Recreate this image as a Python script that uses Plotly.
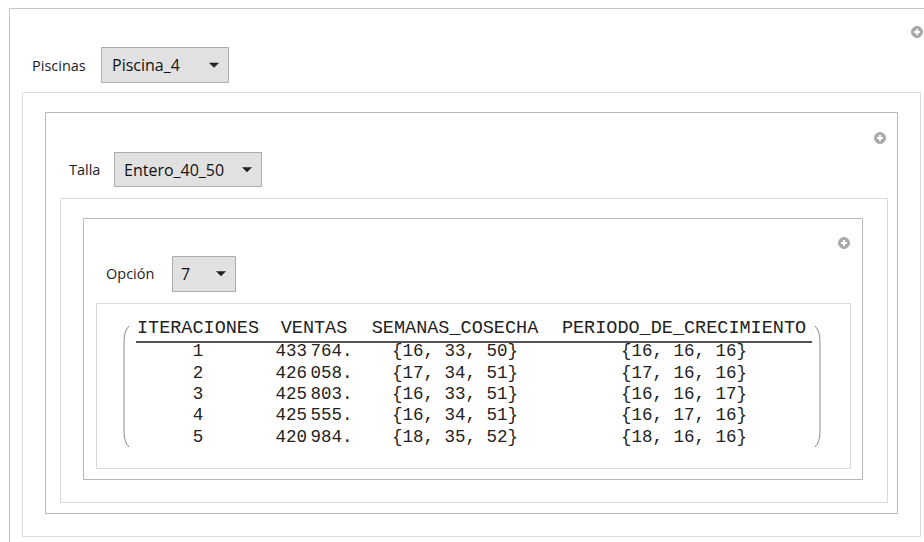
import plotly.graph_objects as go

# ---------------- data ----------------
iteraciones = [1, 2, 3, 4, 5]
ventas = [433764, 426058, 425803, 425555, 420984]
semanas_cosecha = [[16, 33, 50], [17, 34, 51], [16, 33, 51], [16, 34, 51], [18, 35, 52]]
periodo_crecimiento = [[16, 16, 16], [17, 16, 16], [16, 16, 17], [16, 17, 16], [18, 16, 16]]
headers = ["ITERACIONES", "VENTAS", "SEMANAS_COSECHA", "PERIODO_DE_CRECIMIENTO"]

control_labels = ["Piscinas", "Talla", "Opción"]
control_values = ["Piscina_4", "Entero_40_50", "7"]

# ---------------- layout geometry ----------------
W, H = 924, 542
col_x = [198, 314, 455, 684]
header_y = 328
row_y = [352, 374, 395, 416, 438]

def fmt_num(v):
    s = f"{v:d}"
    return s[:-3] + "\u2009" + s[-3:] + "."

def fmt_list(l):
    return "{" + ", ".join(str(x) for x in l) + "}"

fig = go.Figure()

LIGHT = "#dadada"
DARK = "#b8b8b8"
shapes = []

def rect(x0, y0, x1, y1, color, w=1):
    shapes.append(dict(type="rect", xref="x", yref="y", x0=x0, y0=y0, x1=x1, y1=y1,
                       line=dict(color=color, width=w), fillcolor="rgba(0,0,0,0)", layer="below"))

def line(x0, y0, x1, y1, color, w=1):
    shapes.append(dict(type="line", xref="x", yref="y", x0=x0, y0=y0, x1=x1, y1=y1,
                       line=dict(color=color, width=w)))

# outer frame (only top and left visible)
line(9.5, 8.5, 930, 8.5, "#c4c4c4")
line(9.5, 8.5, 9.5, 550, "#c4c4c4")
# nested panels
rect(22.5, 92.5, 920.5, 536.5, LIGHT)
rect(45.5, 112.5, 897.5, 513.5, DARK)
rect(60.5, 198.5, 887.5, 502.5, LIGHT)
rect(83.5, 218.5, 862.5, 479.5, DARK)
rect(96.5, 303.5, 850.5, 468.5, LIGHT)

# plus icons
for (cx, cy) in [(917, 32), (880, 138), (844, 243)]:
    r = 5.5
    shapes.append(dict(type="circle", xref="x", yref="y", x0=cx - r, y0=cy - r, x1=cx + r, y1=cy + r,
                       line=dict(color="#a9a9a9", width=1), fillcolor="#a9a9a9"))
    line(cx - 3, cy, cx + 3, cy, "white", 2)
    line(cx, cy - 3, cx, cy + 3, "white", 2)

# dropdowns
dropdowns = [
    dict(lx=30, box=(101, 47, 228, 82), tx=110, ax=214, cy=65),
    dict(lx=67, box=(114, 152, 261, 186), tx=122, ax=247, cy=169.5),
    dict(lx=104, box=(172, 256, 235, 291), tx=179, ax=221, cy=273.5),
]
annotations = []
for d, lab, val in zip(dropdowns, control_labels, control_values):
    x0, y0, x1, y1 = d["box"]
    shapes.append(dict(type="rect", xref="x", yref="y", x0=x0 + 0.5, y0=y0 + 0.5, x1=x1 + 0.5, y1=y1 + 0.5,
                       line=dict(color="#adadad", width=1), fillcolor="#e1e1e1"))
    ax, cy = d["ax"], d["cy"]
    shapes.append(dict(type="path", xref="x", yref="y",
                       path=f"M {ax-4.5} {cy-2} L {ax+4.5} {cy-2} L {ax} {cy+2.5} Z",
                       line=dict(color="#222222", width=0.5), fillcolor="#222222"))
    annotations.append(dict(x=d["lx"], y=d["cy"], xref="x", yref="y", text=lab, showarrow=False,
                            xanchor="left", yanchor="middle",
                            font=dict(family="Open Sans", size=14.5, color="#1b1b2b")))
    annotations.append(dict(x=d["tx"], y=d["cy"], xref="x", yref="y", text=val, showarrow=False,
                            xanchor="left", yanchor="middle",
                            font=dict(family="Open Sans", size=16, color="#111111")))

# header underline
line(136, 342, 812, 342, "#1a1a1a", 1.3)
# matrix parentheses
shapes.append(dict(type="path", xref="x", yref="y",
                   path="M 129 326 Q 124 331 124 342 L 124 431 Q 124 442 129 447",
                   line=dict(color="#8c8c8c", width=1)))
shapes.append(dict(type="path", xref="x", yref="y",
                   path="M 815 326 Q 820 331 820 342 L 820 431 Q 820 442 815 447",
                   line=dict(color="#8c8c8c", width=1)))

hfont = dict(family="Liberation Mono", size=18.5, color="#222222")
tfont = dict(family="Liberation Mono", size=17.5, color="#222222")
# headers
fig.add_trace(go.Scatter(x=col_x, y=[header_y] * len(headers), text=headers, mode="text",
                         textposition="middle center", textfont=hfont, hoverinfo="skip"))
columns = [
    [str(v) for v in iteraciones],
    [fmt_num(v) for v in ventas],
    [fmt_list(v) for v in semanas_cosecha],
    [fmt_list(v) for v in periodo_crecimiento],
]
for cx, col in zip(col_x, columns):
    fig.add_trace(go.Scatter(x=[cx] * len(col), y=row_y, text=col, mode="text",
                             textposition="middle center", textfont=tfont, hoverinfo="skip"))

fig.update_layout(
    width=W, height=H, margin=dict(l=0, r=0, t=0, b=0),
    paper_bgcolor="white", plot_bgcolor="white", showlegend=False,
    xaxis=dict(range=[0, W], visible=False, fixedrange=True),
    yaxis=dict(range=[H, 0], visible=False, fixedrange=True),
    shapes=shapes, annotations=annotations,
)

fig.write_html("out.html", config={"displayModeBar": False},
               post_script="document.body.style.margin='0';document.body.style.overflow='hidden';")
